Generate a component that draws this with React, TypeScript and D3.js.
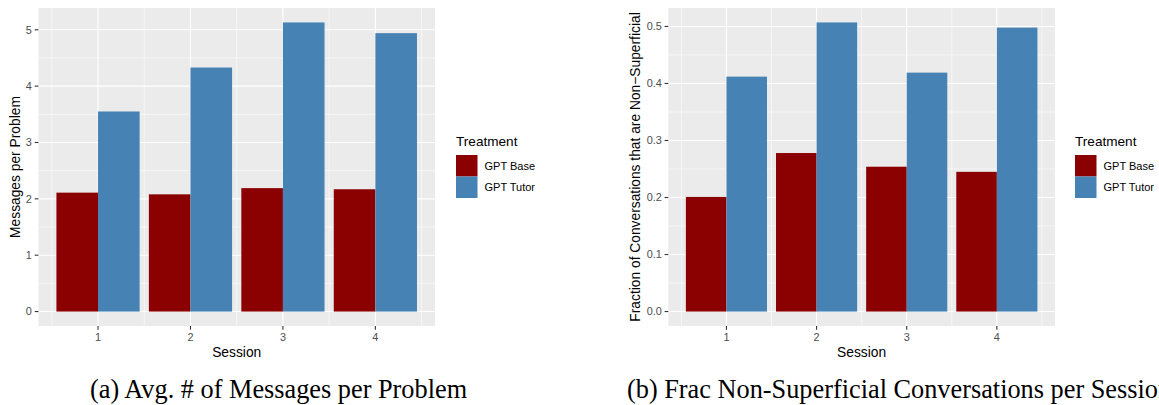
import * as React from "react";
import * as d3 from "d3";

// data
const sessions = [1, 2, 3, 4];
const treatments = ["GPT Base", "GPT Tutor"];
const colors = ["#8B0000", "#4682B4"];

const messagesBase = [2.11, 2.08, 2.19, 2.17];
const messagesTutor = [3.55, 4.33, 5.13, 4.94];
const messagesTicks = [0, 1, 2, 3, 4, 5];

const fracBase = [0.201, 0.278, 0.254, 0.245];
const fracTutor = [0.412, 0.507, 0.419, 0.498];
const fracTicks = [0, 0.1, 0.2, 0.3, 0.4, 0.5];

const sans = "'Liberation Sans', Arial, Helvetica, sans-serif";
const serif = "'Liberation Serif', 'Times New Roman', serif";

interface PanelProps {
  left: number;
  right: number;
  top: number;
  bottom: number;
  base: number[];
  tutor: number[];
  ticks: number[];
  fmt: (v: number) => string;
  yTitle: string;
  yTitleX: number;
  legendX: number;
}

function Panel(props: PanelProps) {
  const { left, right, top, bottom, base, tutor, ticks, fmt } = props;

  const barW = 0.45;
  const xLo = 1 - 0.45;
  const xHi = 4 + 0.45;
  const xPad = (xHi - xLo) * 0.05;
  const x = d3
    .scaleLinear()
    .domain([xLo - xPad, xHi + xPad])
    .range([left, right]);

  const yMax = d3.max(base.concat(tutor)) as number;
  const y = d3
    .scaleLinear()
    .domain([-yMax * 0.05, yMax * 1.05])
    .range([bottom, top]);

  const step = ticks[1] - ticks[0];
  const yMinor = ticks
    .map(t => t + step / 2)
    .concat([ticks[0] - step / 2])
    .filter(v => v > y.domain()[0] && v < y.domain()[1]);
  const xMinor = sessions
    .map(s => s - 0.5)
    .concat([sessions[sessions.length - 1] + 0.5])
    .filter(v => v > x.domain()[0] && v < x.domain()[1]);

  const midY = (top + bottom) / 2;
  const midX = (left + right) / 2;

  return (
    <g className="panel">
      <rect
        x={left}
        y={top}
        width={right - left}
        height={bottom - top}
        fill="#EBEBEB"
      />
      {yMinor.map(v => (
        <line
          key={"ym" + v}
          x1={left}
          x2={right}
          y1={y(v)}
          y2={y(v)}
          stroke="#fff"
          strokeWidth={0.55}
        />
      ))}
      {xMinor.map(v => (
        <line
          key={"xm" + v}
          x1={x(v)}
          x2={x(v)}
          y1={top}
          y2={bottom}
          stroke="#fff"
          strokeWidth={0.55}
        />
      ))}
      {ticks.map(v => (
        <line
          key={"yg" + v}
          x1={left}
          x2={right}
          y1={y(v)}
          y2={y(v)}
          stroke="#fff"
          strokeWidth={1.1}
        />
      ))}
      {sessions.map(s => (
        <line
          key={"xg" + s}
          x1={x(s)}
          x2={x(s)}
          y1={top}
          y2={bottom}
          stroke="#fff"
          strokeWidth={1.1}
        />
      ))}

      {sessions.map((s, i) => (
        <g key={"bar" + s}>
          <rect
            x={x(s - barW)}
            y={y(base[i])}
            width={x(s) - x(s - barW)}
            height={y(0) - y(base[i])}
            fill={colors[0]}
          />
          <rect
            x={x(s)}
            y={y(tutor[i])}
            width={x(s + barW) - x(s)}
            height={y(0) - y(tutor[i])}
            fill={colors[1]}
          />
        </g>
      ))}

      {/* y axis */}
      {ticks.map(v => (
        <g key={"yt" + v}>
          <line
            x1={left - 3.7}
            x2={left}
            y1={y(v)}
            y2={y(v)}
            stroke="#333333"
            strokeWidth={1.1}
          />
          <text
            x={left - 6.5}
            y={y(v)}
            dy="0.36em"
            textAnchor="end"
            fontFamily={sans}
            fontSize={10.9}
            fill="#4D4D4D"
          >
            {fmt(v)}
          </text>
        </g>
      ))}
      {/* x axis */}
      {sessions.map(s => (
        <g key={"xt" + s}>
          <line
            x1={x(s)}
            x2={x(s)}
            y1={bottom}
            y2={bottom + 3.7}
            stroke="#333333"
            strokeWidth={1.1}
          />
          <text
            x={x(s)}
            y={bottom + 14.5}
            textAnchor="middle"
            fontFamily={sans}
            fontSize={10.9}
            fill="#4D4D4D"
          >
            {s}
          </text>
        </g>
      ))}
      <text
        x={midX}
        y={bottom + 30.5}
        textAnchor="middle"
        fontFamily={sans}
        fontSize={13.8}
        fill="#000"
      >
        Session
      </text>
      <text
        transform={`translate(${props.yTitleX},${midY}) rotate(-90)`}
        dy="0.36em"
        textAnchor="middle"
        fontFamily={sans}
        fontSize={13.8}
        fill="#000"
      >
        {props.yTitle}
      </text>

      {/* legend */}
      <g transform={`translate(${props.legendX},0)`}>
        <text x={0} y={146} fontFamily={sans} fontSize={13.6} fill="#000">
          Treatment
        </text>
        {treatments.map((t, i) => (
          <g key={t} transform={`translate(0,${155 + i * 21.5})`}>
            <rect x={0} y={0} width={21.5} height={21.5} fill={colors[i]} />
            <text
              x={28.5}
              y={10.75}
              dy="0.36em"
              fontFamily={sans}
              fontSize={11}
              fill="#000"
            >
              {t}
            </text>
          </g>
        ))}
      </g>
    </g>
  );
}

export default function App() {
  return (
    <svg
      width={1159}
      height={405}
      style={{ position: "absolute", left: 0, top: 0, background: "#fff" }}
    >
      <Panel
        left={38.4}
        right={435}
        top={8}
        bottom={326}
        base={messagesBase}
        tutor={messagesTutor}
        ticks={messagesTicks}
        fmt={d3.format("d")}
        yTitle="Messages per Problem"
        yTitleX={15}
        legendX={456}
      />
      <Panel
        left={668.3}
        right={1055}
        top={8}
        bottom={326}
        base={fracBase}
        tutor={fracTutor}
        ticks={fracTicks}
        fmt={d3.format(".1f")}
        yTitle="Fraction of Conversations that are Non−Superficial"
        yTitleX={635}
        legendX={1075}
      />
      <text x={90} y={398} fontFamily={serif} fontSize={26.3} fill="#000">
        (a) Avg. # of Messages per Problem
      </text>
      <text x={627} y={398} fontFamily={serif} fontSize={26.3} fill="#000">
        (b) Frac Non-Superficial Conversations per Session
      </text>
    </svg>
  );
}
